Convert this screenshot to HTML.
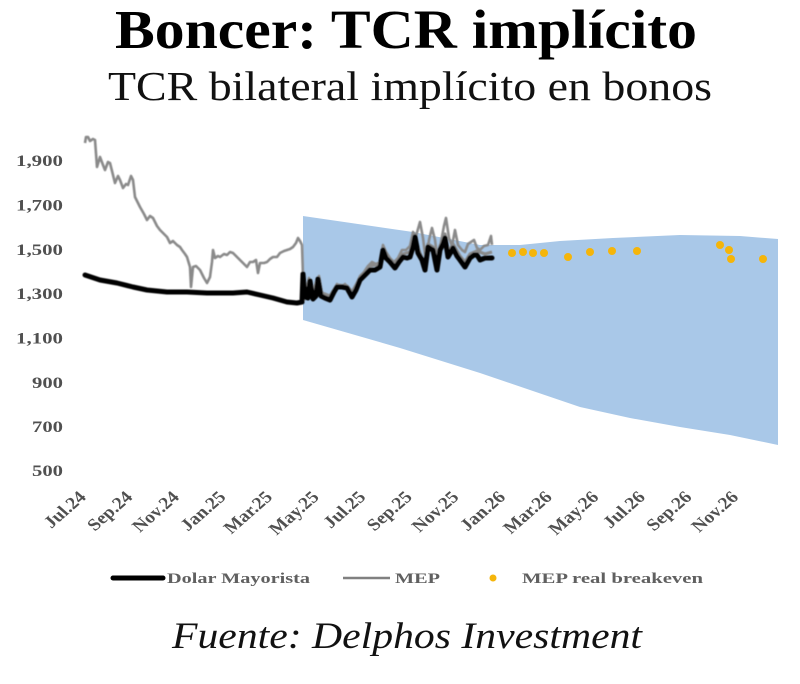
<!DOCTYPE html>
<html>
<head>
<meta charset="utf-8">
<style>
  html, body { margin: 0; padding: 0; background: #ffffff; }
  svg { display: block; }
  .ser { font-family: "Liberation Serif", "DejaVu Serif", serif; }
</style>
</head>
<body>
<svg width="800" height="684" viewBox="0 0 800 684" xmlns="http://www.w3.org/2000/svg">
  <defs>
    <filter id="soft" x="-5%" y="-5%" width="110%" height="110%">
      <feGaussianBlur stdDeviation="0.5"/>
    </filter>
  </defs>
  <rect width="800" height="684" fill="#ffffff"/>

  <!-- Titles -->
  <text class="ser" x="406" y="48" text-anchor="middle" font-size="55" font-weight="bold" fill="#000" textLength="582" lengthAdjust="spacingAndGlyphs">Boncer: TCR implícito</text>
  <text class="ser" x="410" y="100" text-anchor="middle" font-size="41" fill="#111" textLength="604" lengthAdjust="spacingAndGlyphs">TCR bilateral implícito en bonos</text>

  <!-- Blue band -->
  <path d="M303,216 L413,232 L480,245 L520,245 L560,241 L613,238 L680,235 L740,236 L778,239 L778,445 L730,435 L680,427 L630,418 L580,407 L530,390 L480,373 L400,348 L303,320 Z" fill="#a9c8e8"/>

  <!-- Y axis labels -->
  <g class="ser" font-size="16" font-weight="bold" fill="#505050" text-anchor="end">
    <text x="63" y="166" textLength="47" lengthAdjust="spacingAndGlyphs">1,900</text>
    <text x="63" y="210.5" textLength="47" lengthAdjust="spacingAndGlyphs">1,700</text>
    <text x="63" y="255" textLength="47" lengthAdjust="spacingAndGlyphs">1,500</text>
    <text x="63" y="299" textLength="47" lengthAdjust="spacingAndGlyphs">1,300</text>
    <text x="63" y="343.5" textLength="47" lengthAdjust="spacingAndGlyphs">1,100</text>
    <text x="63" y="388" textLength="31" lengthAdjust="spacingAndGlyphs">900</text>
    <text x="63" y="432" textLength="31" lengthAdjust="spacingAndGlyphs">700</text>
    <text x="63" y="476" textLength="31" lengthAdjust="spacingAndGlyphs">500</text>
  </g>

  <!-- X axis labels -->
  <g class="ser" font-size="17" font-weight="bold" fill="#505050" text-anchor="end">
    <g transform="translate(87,498) scale(1.15,1) rotate(-45)"><text>Jul.24</text></g>
    <g transform="translate(133.6,498) scale(1.15,1) rotate(-45)"><text>Sep.24</text></g>
    <g transform="translate(180.2,498) scale(1.15,1) rotate(-45)"><text>Nov.24</text></g>
    <g transform="translate(226.8,498) scale(1.15,1) rotate(-45)"><text>Jan.25</text></g>
    <g transform="translate(273.4,498) scale(1.15,1) rotate(-45)"><text>Mar.25</text></g>
    <g transform="translate(320,498) scale(1.15,1) rotate(-45)"><text>May.25</text></g>
    <g transform="translate(366.6,498) scale(1.15,1) rotate(-45)"><text>Jul.25</text></g>
    <g transform="translate(413.2,498) scale(1.15,1) rotate(-45)"><text>Sep.25</text></g>
    <g transform="translate(459.8,498) scale(1.15,1) rotate(-45)"><text>Nov.25</text></g>
    <g transform="translate(506.4,498) scale(1.15,1) rotate(-45)"><text>Jan.26</text></g>
    <g transform="translate(553,498) scale(1.15,1) rotate(-45)"><text>Mar.26</text></g>
    <g transform="translate(599.6,498) scale(1.15,1) rotate(-45)"><text>May.26</text></g>
    <g transform="translate(646.2,498) scale(1.15,1) rotate(-45)"><text>Jul.26</text></g>
    <g transform="translate(692.8,498) scale(1.15,1) rotate(-45)"><text>Sep.26</text></g>
    <g transform="translate(739.4,498) scale(1.15,1) rotate(-45)"><text>Nov.26</text></g>
  </g>

  <g filter="url(#soft)">
  <!-- MEP (gray) -->
  <path fill="none" stroke="#8a8a8a" stroke-width="2.6" stroke-linejoin="round" d="M85,143 L86,137 L88,137 L90,141 L93,139 L95,140 L97,167 L100,157 L103,165 L105,170 L108,162 L110,163 L113,175 L115,183 L118,176 L120,180 L123,188 L126,184 L128,185 L131,176 L133,180 L135,197 L138,203 L140,207 L144,214 L147,220 L150,216 L153,218 L157,226 L160,230 L163,233 L167,237 L170,243 L173,241 L177,245 L180,247 L182,250 L185,254 L187,257 L190,267 L191,287 L193,267 L196,266 L200,270 L204,278 L207,283 L210,277 L212,262 L213,250 L215,258 L218,256 L220,257 L224,254 L227,255 L230,252 L233,253 L237,257 L240,260 L243,263 L247,267 L250,262 L253,262 L256,260 L258,273 L260,263 L264,263 L267,262 L270,259 L273,257 L277,257 L280,253 L284,251 L287,250 L290,249 L293,247 L296,243 L298,238 L300,241 L302,245 L303,277 L304,300 L306,290 L309,278 L312,296 L316,282 L319,276 L322,294 L326,298 L330,296 L334,290 L337,284 L341,287 L345,284 L349,290 L352,293 L356,285 L360,276 L364,272 L368,266 L372,262 L376,264 L380,262 L383,245 L386,252 L390,258 L394,262 L398,258 L402,250 L406,250 L410,246 L413,232 L416,236 L420,222 L423,238 L426,262 L429,240 L432,228 L435,240 L438,262 L441,242 L444,226 L446,218 L449,238 L452,246 L455,230 L458,245 L462,250 L465,252 L468,244 L471,242 L474,240 L477,248 L480,250 L484,246 L488,245 L491,236 L492,245"/>
  <!-- MEP overlay band post-May to thicken gray around black -->
  <path fill="none" stroke="#8a8a8a" stroke-width="3.2" stroke-linejoin="round" d="M304,295 L309,283 L313,296 L318,282 L322,293 L330,296 L337,285 L347,286 L352,292 L360,278 L370,266 L380,264 L383,248 L390,259 L395,264 L403,254 L410,252 L415,236 L418,248 L425,266 L428,244 L433,247 L437,266 L440,246 L445,234 L448,252 L453,244 L460,256 L465,262 L470,254 L477,251 L485,254 L492,252"/>

  <!-- Dolar Mayorista (black) -->
  <path fill="none" stroke="#000" stroke-width="5" stroke-linejoin="round" stroke-linecap="round" d="M85,275 L100,280 L117,283 L133,287 L147,290 L167,292 L187,292 L207,293 L233,293 L247,292 L260,295 L273,298 L287,302 L297,303 L302,302 L303,274 L305,297 L308,298 L310,281 L313,299 L316,296 L318,279 L321,296 L325,298 L330,300 L334,292 L337,287 L342,287 L347,288 L352,297 L356,290 L360,280 L365,275 L370,270 L375,270 L380,267 L383,250 L386,258 L390,262 L395,268 L399,262 L403,257 L407,258 L410,257 L413,247 L415,237 L418,253 L422,260 L425,270 L428,247 L431,249 L433,250 L437,270 L440,250 L443,244 L445,238 L448,257 L451,252 L453,248 L457,256 L460,260 L465,267 L470,258 L474,255 L477,255 L480,260 L485,258 L492,258"/>
  </g>

  <!-- MEP real breakeven dots -->
  <g fill="#f5b50a">
    <circle cx="512" cy="253" r="4"/>
    <circle cx="523" cy="252" r="4"/>
    <circle cx="533" cy="253" r="4"/>
    <circle cx="544" cy="253" r="4"/>
    <circle cx="568" cy="257" r="4"/>
    <circle cx="590" cy="252" r="4"/>
    <circle cx="612" cy="251" r="4"/>
    <circle cx="637" cy="251" r="4"/>
    <circle cx="720" cy="245" r="4"/>
    <circle cx="729" cy="250" r="4"/>
    <circle cx="731" cy="259" r="4"/>
    <circle cx="763" cy="259" r="4"/>
  </g>

  <!-- Legend -->
  <line x1="113" y1="578" x2="163" y2="578" stroke="#000" stroke-width="5" stroke-linecap="round"/>
  <line x1="343" y1="578" x2="390" y2="578" stroke="#808080" stroke-width="2.5"/>
  <circle cx="493" cy="578" r="3.5" fill="#f5b50a"/>
  <g class="ser" font-size="15" font-weight="bold" fill="#606060">
    <text x="167" y="583" textLength="143" lengthAdjust="spacingAndGlyphs">Dolar Mayorista</text>
    <text x="395" y="583" textLength="45" lengthAdjust="spacingAndGlyphs">MEP</text>
    <text x="522" y="583" textLength="181" lengthAdjust="spacingAndGlyphs">MEP real breakeven</text>
  </g>

  <!-- Footer -->
  <text class="ser" x="407" y="648" text-anchor="middle" font-size="37" font-style="italic" fill="#111" textLength="470" lengthAdjust="spacingAndGlyphs">Fuente: Delphos Investment</text>
</svg>
</body>
</html>
